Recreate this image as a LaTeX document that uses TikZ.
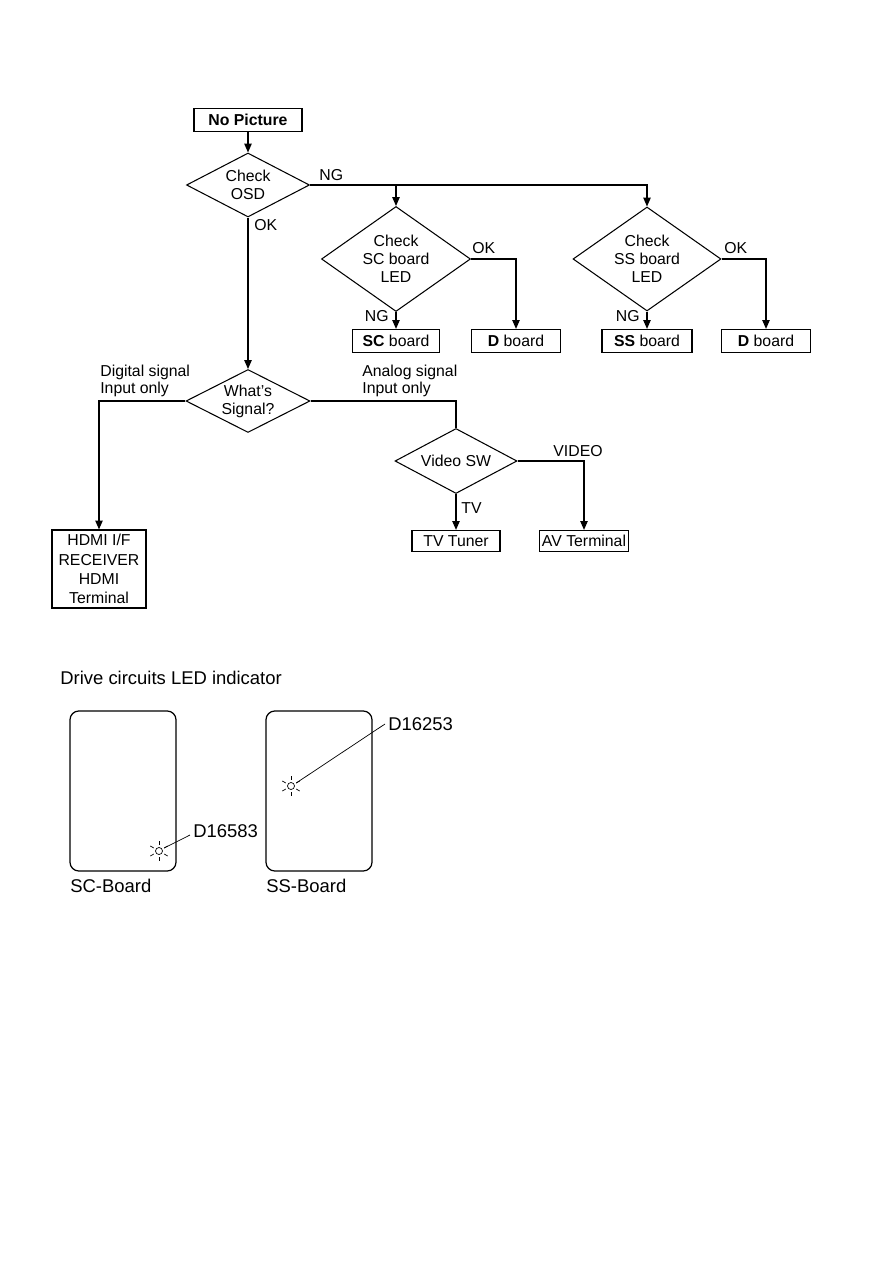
\documentclass[tikz,border=0pt]{standalone}
\usepackage{fontspec}
\setmainfont{Liberation Sans}
\usetikzlibrary{shapes.geometric,arrows.meta,calc}

\tikzset{
    box/.style={draw, line width=0.7pt, rectangle, inner sep=0pt, minimum height=23*0.02cm, align=center, font=\fontsize{9}{10.4}\selectfont},
    decision/.style={draw, line width=0.6pt, diamond, inner sep=0pt, align=center, font=\fontsize{9}{10.2}\selectfont},
    lbl/.style={inner sep=0pt, align=left, font=\fontsize{9}{10}\selectfont},
    arr/.style={line width=0.6pt, -{Triangle[length=5pt,width=4.2pt]}},
    ln/.style={line width=0.6pt},
    board/.style={draw, line width=0.7pt, rounded corners=5pt},
    big/.style={inner sep=0pt, font=\fontsize{10.5}{12}\selectfont}
}

\newcommand{\ledmark}[1]{%
    \draw[line width=0.4pt] (#1) circle (3.5*0.02cm);
    \foreach \ang in {90,270,150,210,30,330}
        \draw[line width=0.4pt] ($(#1)+(\ang:6*0.02cm)$) -- ($(#1)+(\ang:10*0.02cm)$);
}

\begin{document}
\begin{tikzpicture}[x=0.02cm, y=-0.02cm]

            \useasboundingbox (0,0) rectangle (893,1263);

            % flow chart
            \node[box, minimum width=108*0.02cm] (nopic) at (248,120) {\textbf{No Picture}};
            \node[decision, aspect=1.92, minimum width=123*0.02cm, minimum height=64*0.02cm] (osd) at (248,185) {Check\\OSD};

            \node[decision, aspect=1.42, minimum width=149*0.02cm, minimum height=105*0.02cm] (scled) at (396,259) {Check\\SC board\\LED};
            \node[decision, aspect=1.42, minimum width=148*0.02cm, minimum height=104*0.02cm] (ssled) at (647,259) {Check\\SS board\\LED};

            \node[box, minimum width=87*0.02cm] (scbd) at (396,341) {\textbf{SC} board};
            \node[box, minimum width=89*0.02cm] (dbdsc) at (516,341) {\textbf{D} board};
            \node[box, minimum width=90*0.02cm] (ssbd) at (647,341) {\textbf{SS} board};
            \node[box, minimum width=89*0.02cm] (dbdss) at (766,341) {\textbf{D} board};

            \node[decision, aspect=1.97, minimum width=124*0.02cm, minimum height=63*0.02cm] (signal) at (248,401) {What's\\Signal?};
            \node[box, minimum width=94*0.02cm, minimum height=78*0.02cm, font=\fontsize{9}{10.9}\selectfont] (hdmi) at (99,569) {HDMI I/F\\RECEIVER\\HDMI\\Terminal};

            \node[decision, aspect=1.88, minimum width=122*0.02cm, minimum height=65*0.02cm] (videosw) at (456,461) {Video SW};
            \node[box, minimum width=88*0.02cm, minimum height=21*0.02cm] (tvtuner) at (456,541) {TV Tuner};
            \node[box, minimum width=89*0.02cm, minimum height=21*0.02cm] (avterm) at (584,541) {AV Terminal};

            \draw[arr] (nopic.south) -- (osd.north);
            \draw[arr] (osd.east) -- (ssled.north |- osd.east) -- (ssled.north);
            \draw[arr] (scled.north |- osd.east) -- (scled.north);
            \draw[arr] (osd.south) -- (signal.north);

            \draw[arr] (scled.south) -- (scbd.north);
            \draw[arr] (scled.east) -| (dbdsc.north);
            \draw[arr] (ssled.south) -- (ssbd.north);
            \draw[arr] (ssled.east) -| (dbdss.north);

            \draw[arr] (signal.west) -| (hdmi.north);
            \draw[ln] (signal.east) -| (videosw.north);
            \draw[arr] (videosw.south) -- (tvtuner.north);
            \draw[arr] (videosw.east) -| (avterm.north);

            \node[lbl, anchor=west] (ngosd) at (319,175) {NG};
            \node[lbl, anchor=west] (okosd) at (254,225) {OK};
            \node[lbl, anchor=west] (oksc) at (472,248) {OK};
            \node[lbl, anchor=east] (ngsc) at (389,316) {NG};
            \node[lbl, anchor=west] (okss) at (724,248) {OK};
            \node[lbl, anchor=east] (ngss) at (640,316) {NG};
            \node[lbl, anchor=west] (digital) at (100,381) {Digital signal\\Input only};
            \node[lbl, anchor=west] (analog) at (362,381) {Analog signal\\Input only};
            \node[lbl] (video) at (578,451) {VIDEO};
            \node[lbl, anchor=west] (tv) at (461,508) {TV};

            % LED indicator
            \node[big, anchor=west] (title) at (60,678) {Drive circuits LED indicator};

            \draw[board] (70,711) rectangle (176,871);
            \draw[board] (266,711) rectangle (372,871);
            \node[big, anchor=west] (sclbl) at (70,886) {SC-Board};
            \node[big, anchor=west] (sslbl) at (266,886) {SS-Board};

            \coordinate (scled1) at (159,851);
            \coordinate (ssled1) at (291,786);
            \ledmark{scled1}
            \ledmark{ssled1}
            \node[big, anchor=west] (d16583) at (193,831) {D16583};
            \node[big, anchor=west] (d16253) at (388,724) {D16253};
            \draw[line width=0.4pt] ($(scled1)+(30:6*0.02cm)$) -- ($(d16583.west)+(-3,4)$);
            \draw[line width=0.4pt] ($(ssled1)+(30:6*0.02cm)$) -- ($(d16253.west)+(-3,0)$);

        \end{tikzpicture}
\end{document}
